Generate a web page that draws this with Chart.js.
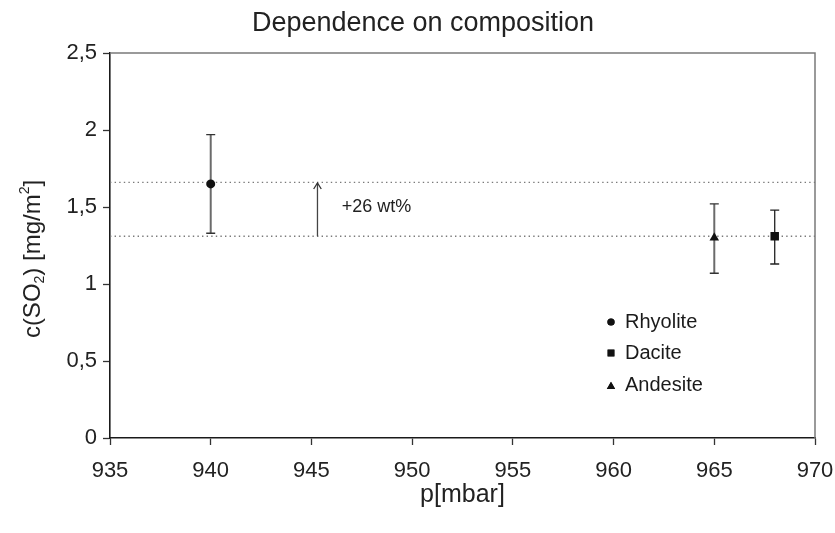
<!DOCTYPE html>
<html>
<head>
<meta charset="utf-8">
<script src="https://cdn.jsdelivr.net/npm/chart.js@4.4.1/dist/chart.umd.min.js"></script>
<style>
  html, body { margin: 0; padding: 0; background: #fff; }
  canvas { display: block; }
</style>
</head>
<body>
<canvas id="chart" width="835" height="533"></canvas>
<script>
// Measured SO2 concentration per magma composition
const rocks = ['Rhyolite', 'Dacite', 'Andesite'];
const pressure = [940, 968, 965];          // p [mbar]
const so2 = [1.65, 1.31, 1.30];            // c(SO2) [mg/m2]
const so2Low = [1.33, 1.13, 1.07];
const so2High = [1.97, 1.48, 1.52];

// Reference levels and the difference between them
const levelValues = [1.66, 1.31];
const levelRange = [935, 970];
const arrowX = 945.3;
const arrowFrom = 1.31;
const arrowTo = 1.656;
const arrowLabel = '+26 wt%';
const arrowLabelAt = [946.5, 1.5];

// Axis ticks
const xTickValues = [935, 940, 945, 950, 955, 960, 965, 970];
const yTickValues = [0, 0.5, 1, 1.5, 2, 2.5];
const yTickLabels = ['0', '0,5', '1', '1,5', '2', '2,5'];

const chartTitle = 'Dependence on composition';
const xTitle = 'p[mbar]';

// Presentation
const FONT = '"Liberation Sans", Arial, sans-serif';
const markerStyle = {
  Rhyolite: { pointStyle: 'circle', radius: 4.5 },
  Dacite:   { pointStyle: 'rect', radius: 6 },
  Andesite: { pointStyle: 'triangle', radius: 5.5 }
};
const errorStyle = {
  Rhyolite: { color: '#6b6b6b', width: 2, capColor: '#333', cap: 4.5 },
  Dacite:   { color: '#222', width: 1.3, capColor: '#222', cap: 4.5 },
  Andesite: { color: '#6b6b6b', width: 2, capColor: '#333', cap: 4.5 }
};

const markerSets = rocks.map((name, i) => ({
  label: name,
  data: [{ x: pressure[i], y: so2[i] }],
  pointStyle: markerStyle[name].pointStyle,
  pointRadius: markerStyle[name].radius,
  pointBackgroundColor: '#111',
  pointBorderColor: '#111',
  pointBorderWidth: 0,
  showLine: false,
  errLow: so2Low[i],
  errHigh: so2High[i]
}));

const levelSets = levelValues.map((v, i) => ({
  label: 'level' + i,
  data: [{ x: levelRange[0], y: v }, { x: levelRange[1], y: v }],
  showLine: true,
  borderColor: '#7a7a7a',
  borderWidth: 1.4,
  borderDash: [1.4, 3.2],
  pointRadius: 0,
  fill: false
}));

const arrowSet = {
  label: 'difference',
  data: [{ x: arrowX, y: arrowFrom }, { x: arrowX, y: arrowTo }],
  showLine: true,
  borderColor: '#444',
  borderWidth: 1.3,
  pointRadius: 0,
  fill: false
};

const decorations = {
  id: 'decorations',
  beforeDatasetsDraw(chart) {
    const { ctx, scales: { x, y } } = chart;
    chart.data.datasets.forEach(ds => {
      if (ds.errLow === undefined) return;
      const st = errorStyle[ds.label];
      const px = x.getPixelForValue(ds.data[0].x);
      const top = y.getPixelForValue(ds.errHigh);
      const bot = y.getPixelForValue(ds.errLow);
      ctx.save();
      ctx.strokeStyle = st.color;
      ctx.lineWidth = st.width;
      ctx.beginPath();
      ctx.moveTo(px, top);
      ctx.lineTo(px, bot);
      ctx.stroke();
      ctx.strokeStyle = st.capColor;
      ctx.lineWidth = 1.4;
      ctx.beginPath();
      ctx.moveTo(px - st.cap, top); ctx.lineTo(px + st.cap, top);
      ctx.moveTo(px - st.cap, bot); ctx.lineTo(px + st.cap, bot);
      ctx.stroke();
      ctx.restore();
    });
  },
  afterDatasetsDraw(chart) {
    const { ctx, chartArea: a, scales: { x, y } } = chart;
    ctx.save();
    // arrow head
    const ax = x.getPixelForValue(arrowX);
    const ay = y.getPixelForValue(arrowTo);
    ctx.strokeStyle = '#333';
    ctx.lineWidth = 1.3;
    ctx.beginPath();
    ctx.moveTo(ax - 3.8, ay + 6);
    ctx.lineTo(ax, ay);
    ctx.lineTo(ax + 3.8, ay + 6);
    ctx.stroke();

    // arrow label
    ctx.fillStyle = '#222';
    ctx.font = '18px ' + FONT;
    ctx.textAlign = 'left';
    ctx.textBaseline = 'middle';
    ctx.fillText(arrowLabel, x.getPixelForValue(arrowLabelAt[0]), y.getPixelForValue(arrowLabelAt[1]));

    // top and right frame
    ctx.strokeStyle = '#7a7a7a';
    ctx.lineWidth = 1.5;
    ctx.beginPath();
    ctx.moveTo(a.left, a.top);
    ctx.lineTo(a.right, a.top);
    ctx.lineTo(a.right, a.bottom);
    ctx.stroke();

    // legend
    const lx = 611, lTextX = 625, lY = [322, 353, 385];
    ctx.font = '20px ' + FONT;
    rocks.forEach((name, i) => {
      ctx.fillStyle = '#111';
      ctx.strokeStyle = '#111';
      Chart.helpers.drawPoint(ctx, {
        pointStyle: markerStyle[name].pointStyle,
        radius: name === 'Rhyolite' ? 3.6 : 4.8,
        rotation: 0,
        borderWidth: 0
      }, lx, lY[i] + (name === 'Andesite' ? 1.5 : 0));
      ctx.fill();
      ctx.fillStyle = '#1a1a1a';
      ctx.fillText(name, lTextX, lY[i]);
    });

    // title
    ctx.font = '27px ' + FONT;
    ctx.textAlign = 'center';
    ctx.fillStyle = '#222';
    ctx.fillText(chartTitle, 423, 24);

    // x axis title
    ctx.font = '25px ' + FONT;
    ctx.fillText(xTitle, (a.left + a.right) / 2, 495);

    // y axis title with sub- and superscript
    ctx.translate(40, 259);
    ctx.rotate(-Math.PI / 2);
    ctx.textBaseline = 'alphabetic';
    const big = '24px ' + FONT, small = '14px ' + FONT;
    const parts = [
      { t: 'c(SO', f: big, dy: 0 },
      { t: '2', f: small, dy: 4 },
      { t: ') [mg/m', f: big, dy: 0 },
      { t: '2', f: small, dy: -11 },
      { t: ']', f: big, dy: 0 }
    ];
    let total = 0;
    parts.forEach(p => { ctx.font = p.f; p.w = ctx.measureText(p.t).width; total += p.w; });
    let cx = -total / 2;
    ctx.textAlign = 'left';
    parts.forEach(p => {
      ctx.font = p.f;
      ctx.fillText(p.t, cx, p.dy);
      cx += p.w;
    });
    ctx.restore();
  }
};

new Chart(document.getElementById('chart'), {
  type: 'scatter',
  data: { datasets: [...markerSets, arrowSet, ...levelSets] },
  plugins: [decorations],
  options: {
    responsive: false,
    animation: false,
    events: [],
    layout: { padding: { top: 53, right: 20, bottom: 0, left: 0 } },
    plugins: {
      legend: { display: false },
      title: { display: false },
      tooltip: { enabled: false }
    },
    scales: {
      x: {
        type: 'linear',
        min: xTickValues[0],
        max: xTickValues[xTickValues.length - 1],
        afterBuildTicks: s => { s.ticks = xTickValues.map(v => ({ value: v })); },
        afterFit: s => { s.height = 95; s.paddingLeft = 0; s.paddingRight = 0; },
        ticks: {
          color: '#222',
          font: { family: FONT, size: 22 },
          padding: 13,
          maxRotation: 0,
          autoSkip: false
        },
        grid: { display: true, drawOnChartArea: false, drawTicks: true, tickLength: 7, color: '#333', tickWidth: 1.3 },
        border: { display: true, color: '#1a1a1a', width: 1.6 }
      },
      y: {
        type: 'linear',
        min: yTickValues[0],
        max: yTickValues[yTickValues.length - 1],
        afterBuildTicks: s => { s.ticks = yTickValues.map(v => ({ value: v })); },
        afterFit: s => { s.width = 110; s.paddingTop = 0; s.paddingBottom = 0; },
        ticks: {
          color: '#222',
          font: { family: FONT, size: 22 },
          padding: 6,
          autoSkip: false,
          callback: (v) => yTickLabels[yTickValues.indexOf(v)]
        },
        grid: { display: true, drawOnChartArea: false, drawTicks: true, tickLength: 7, color: '#333', tickWidth: 1.3 },
        border: { display: true, color: '#1a1a1a', width: 1.6 }
      }
    }
  }
});
</script>
</body>
</html>
